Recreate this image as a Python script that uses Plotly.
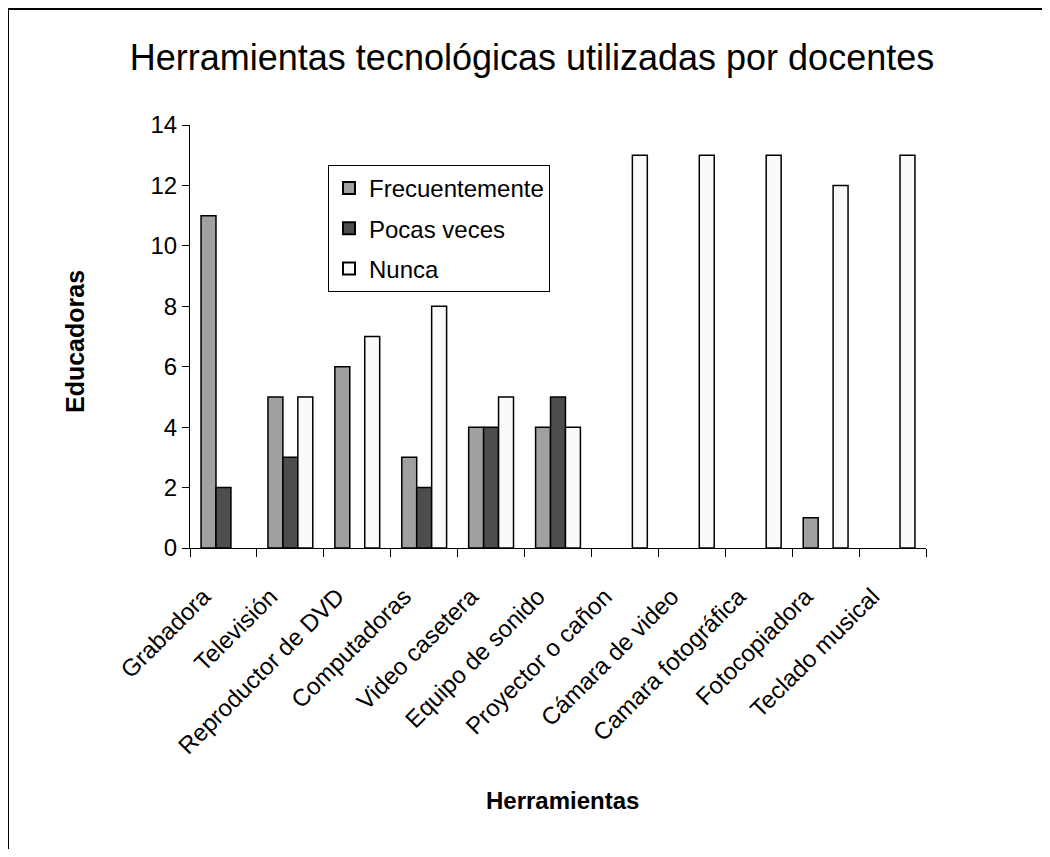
import plotly.graph_objects as go

categorias = ["Grabadora", "Televisión", "Reproductor de DVD", "Computadoras",
              "Video casetera", "Equipo de sonido", "Proyector o cañon",
              "Cámara de video", "Camara fotográfica", "Fotocopiadora", "Teclado musical"]
frecuentemente = [11, 5, 6, 3, 4, 4, 0, 0, 0, 1, 0]
pocas_veces = [2, 3, 0, 2, 4, 5, 0, 0, 0, 0, 0]
nunca = [0, 5, 7, 8, 5, 4, 13, 13, 13, 12, 13]

series = [("Frecuentemente", frecuentemente, "#a0a0a0"),
          ("Pocas veces", pocas_veces, "#4d4d4d"),
          ("Nunca", nunca, "#fafafa")]

FONT = "Liberation Sans, Arial, sans-serif"

fig = go.Figure()
for name, vals, color in series:
    fig.add_trace(go.Bar(
        name=name, x=categorias,
        y=[v if v != 0 else None for v in vals],  # zero bars are not drawn
        legendgroup=name,
        marker=dict(color=color, line=dict(color="black", width=1.5)),
    ))

# figure pixel geometry (page has an 8px body margin)
W, H = 1042, 841
L, T = 182, 117
PR, PB = 918, 540
R, B = W - PR, H - PB
pw, ph = PR - L, PB - T


def px_x(x):
    return (x - L) / pw


def px_y(y):
    return 1 - (y - T) / ph


fig.update_layout(
    width=W, height=H,
    margin=dict(l=L, r=R, t=T, b=B, autoexpand=False),
    paper_bgcolor="white", plot_bgcolor="white",
    barmode="group", bargap=0.33, bargroupgap=0,
    font=dict(family=FONT, color="black", size=24),
    title=dict(text="Herramientas tecnológicas utilizadas por docentes",
               x=px_x(524), xref="paper", xanchor="center",
               y=1 - 49 / H, yanchor="middle",
               font=dict(size=36, family=FONT)),
    showlegend=True,
    legend=dict(x=px_x(320), y=px_y(157), xanchor="left", yanchor="top",
                bgcolor="white", bordercolor="black", borderwidth=1,
                font=dict(size=24), itemsizing="constant",
                traceorder="grouped", tracegroupgap=6),
    shapes=[
        dict(type="line", xref="paper", yref="paper",
             x0=px_x(0), x1=px_x(W), y0=px_y(1), y1=px_y(1),
             line=dict(color="black", width=2)),
        dict(type="line", xref="paper", yref="paper",
             x0=px_x(0), x1=px_x(0), y0=px_y(0), y1=px_y(H),
             line=dict(color="black", width=2)),
    ],
    annotations=[
        dict(text="<b>Herramientas</b>", xref="paper", yref="paper",
             x=px_x(554), y=px_y(792), xanchor="center", yanchor="middle",
             showarrow=False, font=dict(size=24)),
        dict(text="<b>Educadoras</b>", xref="paper", yref="paper",
             x=px_x(67), y=px_y(334), xanchor="center", yanchor="middle",
             showarrow=False, textangle=-90, font=dict(size=25)),
    ],
)

fig.update_xaxes(
    tickangle=-45, tickson="boundaries", ticks="outside", ticklen=8,
    tickcolor="black", showline=True, linecolor="black", linewidth=1,
    showgrid=False, tickfont=dict(size=24), ticklabelstandoff=24,
    ticklabelshift=-20,
)
fig.update_yaxes(
    range=[0, 14], dtick=2, ticks="outside", ticklen=7, tickcolor="black",
    showline=True, linecolor="black", linewidth=1, showgrid=False,
    zeroline=False, tickfont=dict(size=24),
)

fig.write_html("out.html")
